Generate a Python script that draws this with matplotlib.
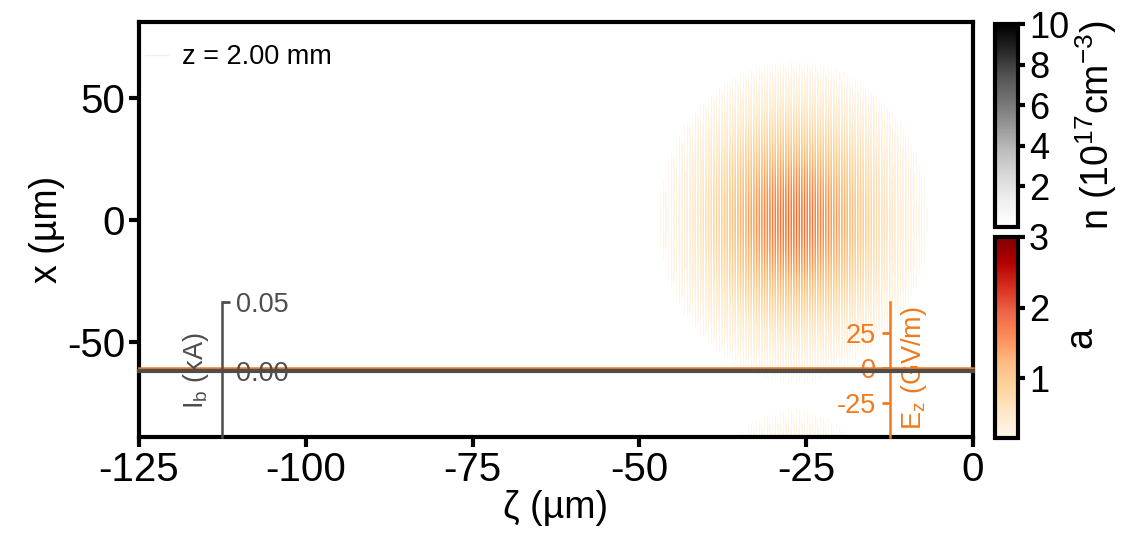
import numpy as np
import matplotlib
matplotlib.use("Agg")
import matplotlib.pyplot as plt
from matplotlib import cm, colors

plt.rcParams['font.family'] = ['Liberation Sans', 'DejaVu Sans']
plt.rcParams['mathtext.fontset'] = 'custom'
plt.rcParams['mathtext.rm'] = 'Liberation Sans'
plt.rcParams['mathtext.it'] = 'Liberation Sans:italic'

# axis ranges and ticks
zeta_lim = (-125.0, 0.0)
x_lim = (-88.9, 81.1)
zeta_ticks = [-125, -100, -75, -50, -25, 0]
x_ticks = [-50, 0, 50]
n_ticks = [2, 4, 6, 8, 10]
a_ticks = [1, 2, 3]
ib_ticks = [0.00, 0.05]
ez_ticks = [-25, 0, 25]

# laser pulse parameters (µm)
a0 = 1.9
pulse_zeta = -26.8
pulse_x = 0.0
waist_zeta = 12.8
waist_x = 41.0
wavelength = 0.8
side_amp = 0.35
side_x = -100.0
side_waist_zeta = 11.0
side_waist_x = 20.0

# on-axis line-outs
zeta_line = np.array([-125.0, 0.0])
current_kA = np.array([0.0, 0.0])
ez_GVm = np.array([0.0, 0.0])

GRAY = '#4d4d4d'
ORANGE = '#f07a1e'
TICK, LABEL, SMALL = 29, 27, 19.5

W, H = 1132, 541
fig = plt.figure(figsize=(W / 100, H / 100), dpi=100)
fx = lambda px: px / W
fy = lambda py: 1 - py / H

L, R, T, B = 139, 973, 22, 437
ax = fig.add_axes([fx(L), fy(B), fx(R) - fx(L), fy(T) - fy(B)])

# field image, one sample per pixel
nz, nxp = R - L, B - T
zeta = np.linspace(zeta_lim[0], zeta_lim[1], nz)
xg = np.linspace(x_lim[0], x_lim[1], nxp)
Z, X = np.meshgrid(zeta, xg)
env = a0 * np.exp(-((Z - pulse_zeta) / waist_zeta) ** 2 - ((X - pulse_x) / waist_x) ** 2)
env += side_amp * np.exp(-((Z - pulse_zeta) / side_waist_zeta) ** 2 - ((X - side_x) / side_waist_x) ** 2)
field = env * np.abs(np.cos(2 * np.pi * Z / wavelength))

a_norm = colors.Normalize(vmin=0.15, vmax=3.0)
a_cmap = plt.get_cmap('OrRd').copy()
a_cmap.set_bad((1, 1, 1, 0))
ax.imshow(np.ma.masked_less(field, 0.15), extent=[*zeta_lim, *x_lim], origin='lower',
          cmap=a_cmap, norm=a_norm, aspect='auto', interpolation='none', zorder=1)

ax.set_xlim(*zeta_lim)
ax.set_ylim(*x_lim)
ax.set_xticks(zeta_ticks)
ax.set_xticklabels([str(t) for t in zeta_ticks])
ax.set_yticks(x_ticks)
ax.set_yticklabels([str(t) for t in x_ticks])
ax.tick_params(length=7, width=3, labelsize=TICK, pad=3)
for s in ax.spines.values():
    s.set_linewidth(3)
ax.set_xlabel('ζ (µm)', fontsize=LABEL, labelpad=1)
ax.set_ylabel('x (µm)', fontsize=LABEL, labelpad=1)

ax.plot([], [], color='#f0f0f0', lw=1, label='z = 2.00 mm')
ax.legend(loc='center left', bbox_to_anchor=(0.0042, 0.9157), frameon=False,
          fontsize=SMALL, handlelength=0.85, borderpad=0.1, borderaxespad=0.0,
          handletextpad=0.5)

# longitudinal field inset axis (drawn below the current axis)
ez_top, ez_zero, ez_px = 301.7, 368.3, 35.0 / 25.0
ax_ez = fig.add_axes([fx(L), fy(B), fx(R) - fx(L), fy(ez_top) - fy(B)])
ax_ez.patch.set_visible(False)
ax_ez.set_xlim(*zeta_lim)
ax_ez.set_ylim(-(B - ez_zero) / ez_px, (ez_zero - ez_top) / ez_px)
for k in ('top', 'bottom', 'right'):
    ax_ez.spines[k].set_visible(False)
ax_ez.spines['left'].set_position(('data', -12.5))
ax_ez.spines['left'].set_color(ORANGE)
ax_ez.spines['left'].set_linewidth(1.8)
ax_ez.set_xticks([])
ax_ez.set_yticks(ez_ticks)
ax_ez.set_yticklabels([str(t) for t in ez_ticks])
ax_ez.tick_params(axis='y', direction='out', length=6, width=2, colors=ORANGE,
                  labelsize=SMALL, pad=4)
ax_ez.text(-8.9, 0.0, 'E$_\\mathrm{z}$ (GV/m)', rotation=90, color=ORANGE, fontsize=SMALL,
           ha='center', va='center')
ax_ez.plot(zeta_line, ez_GVm, color=ORANGE, lw=1.8, zorder=3, clip_on=False)

# beam current inset axis
ib_top, ib_zero = 302, 371
ib_scale = 0.05 / (ib_zero - ib_top)
ax_ib = fig.add_axes([fx(L), fy(B), fx(R) - fx(L), fy(ib_top) - fy(B)])
ax_ib.patch.set_visible(False)
ax_ib.set_xlim(*zeta_lim)
ax_ib.set_ylim(-(B - ib_zero) * ib_scale, 0.05)
for k in ('top', 'bottom', 'left'):
    ax_ib.spines[k].set_visible(False)
ax_ib.spines['right'].set_position(('data', -112.5))
ax_ib.spines['right'].set_color(GRAY)
ax_ib.spines['right'].set_linewidth(1.8)
ax_ib.set_xticks([])
ax_ib.yaxis.tick_right()
ax_ib.set_yticks(ib_ticks)
ax_ib.set_yticklabels([f'{t:.2f}' for t in ib_ticks])
ax_ib.tick_params(axis='y', direction='out', length=6, width=2, colors=GRAY,
                  labelsize=SMALL, pad=4)
ax_ib.text(-116.4, 0.0, 'I$_\\mathrm{b}$ (kA)', rotation=90, color=GRAY, fontsize=SMALL,
           ha='center', va='center')
ax_ib.plot(zeta_line, current_kA, color=GRAY, lw=3, zorder=4, clip_on=False)

# colorbars
CL, CR = 995, 1018
cax_n = fig.add_axes([fx(CL), fy(227), fx(CR) - fx(CL), fy(24) - fy(227)])
cax_a = fig.add_axes([fx(CL), fy(438), fx(CR) - fx(CL), fy(237) - fy(438)])
cb_n = fig.colorbar(cm.ScalarMappable(colors.Normalize(0, 10), 'Greys'), cax=cax_n, ticks=n_ticks)
cb_a = fig.colorbar(cm.ScalarMappable(a_norm, plt.get_cmap('OrRd')), cax=cax_a, ticks=a_ticks)
for cb in (cb_n, cb_a):
    cb.outline.set_linewidth(3)
    cb.ax.tick_params(length=5, width=3, labelsize=26, pad=3)
cb_n.set_label('n (10$^{17}$cm$^{-3}$)', fontsize=27, labelpad=3)
cb_a.set_label('a', fontsize=27, labelpad=10)

fig.savefig('out.png', dpi=100)
